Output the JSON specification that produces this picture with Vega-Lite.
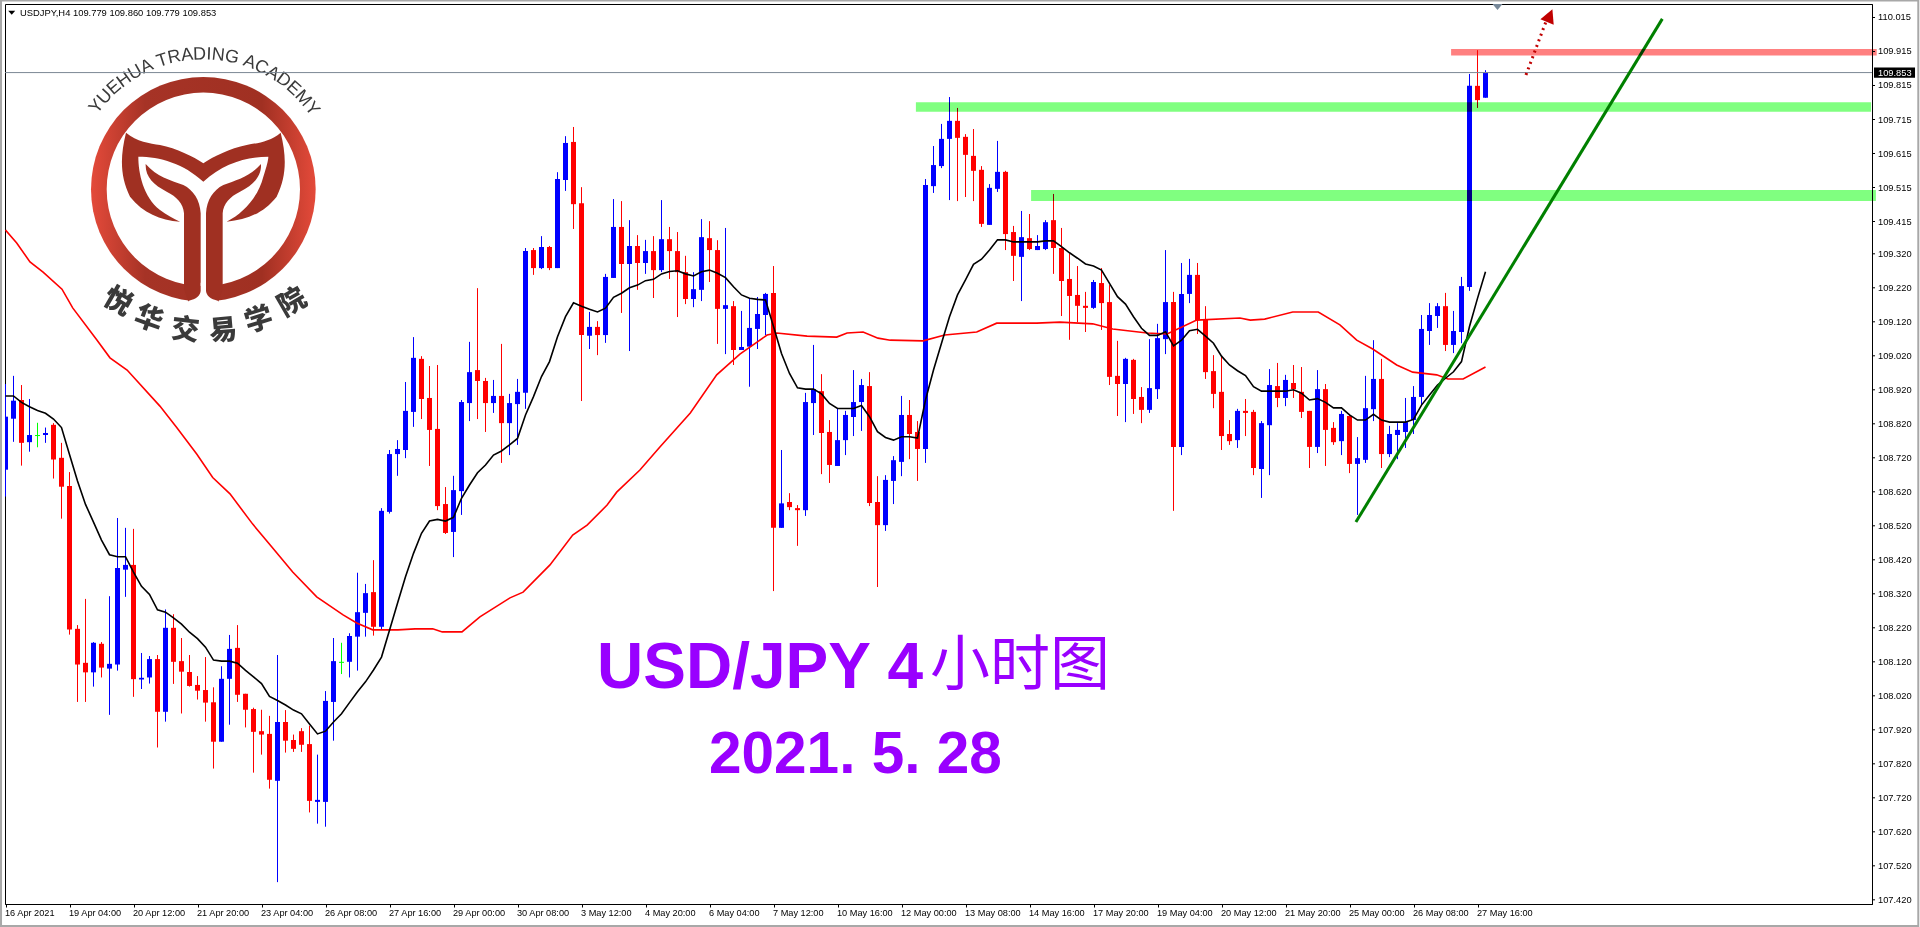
{"$schema":"https://vega.github.io/schema/vega-lite/v6.json","autosize":{"type":"none"},"padding":{"left":5,"top":4,"right":48,"bottom":23},"width":1867,"height":900,"background":"#ffffff","view":{"stroke":"#000000","strokeWidth":1,"fill":"#ffffff"},"config":{"axis":{"labelOverlap":false}},
"datasets":{"yTicks":[{"p":110.015},{"p":109.915},{"p":109.815},{"p":109.715},{"p":109.615},{"p":109.515},{"p":109.415},{"p":109.32},{"p":109.22},{"p":109.12},{"p":109.02},{"p":108.92},{"p":108.82},{"p":108.72},{"p":108.62},{"p":108.52},{"p":108.42},{"p":108.32},{"p":108.22},{"p":108.12},{"p":108.02},{"p":107.92},{"p":107.82},{"p":107.72},{"p":107.62},{"p":107.52},{"p":107.42}],
"candles":[
{"i":0,"o":108.685,"h":108.937,"l":108.606,"c":108.841,"d":"up"},{"i":1,"o":108.835,"h":108.961,"l":108.767,"c":108.888,"d":"up"},{"i":2,"o":108.890,"h":108.934,"l":108.697,"c":108.764,"d":"down"},{"i":3,"o":108.766,"h":108.893,"l":108.738,"c":108.787,"d":"up"},{"i":4,"o":108.784,"h":108.823,"l":108.751,"c":108.787,"d":"flat"},{"i":5,"o":108.787,"h":108.809,"l":108.764,"c":108.793,"d":"up"},{"i":6,"o":108.817,"h":108.822,"l":108.659,"c":108.715,"d":"down"},{"i":7,"o":108.720,"h":108.764,"l":108.541,"c":108.635,"d":"down"},{"i":8,"o":108.637,"h":108.678,"l":108.200,"c":108.215,"d":"down"},{"i":9,"o":108.217,"h":108.228,"l":108.002,"c":108.112,"d":"down"},
{"i":10,"o":108.117,"h":108.305,"l":108.002,"c":108.089,"d":"down"},{"i":11,"o":108.089,"h":108.178,"l":108.047,"c":108.176,"d":"up"},{"i":12,"o":108.173,"h":108.178,"l":108.074,"c":108.103,"d":"down"},{"i":13,"o":108.100,"h":108.313,"l":107.964,"c":108.114,"d":"up"},{"i":14,"o":108.112,"h":108.543,"l":108.094,"c":108.396,"d":"up"},{"i":15,"o":108.391,"h":108.514,"l":108.311,"c":108.405,"d":"up"},{"i":16,"o":108.405,"h":108.511,"l":108.017,"c":108.069,"d":"down"},{"i":17,"o":108.068,"h":108.146,"l":108.040,"c":108.073,"d":"up"},{"i":18,"o":108.074,"h":108.137,"l":108.056,"c":108.128,"d":"up"},{"i":19,"o":108.128,"h":108.140,"l":107.868,"c":107.973,"d":"down"},
{"i":20,"o":107.973,"h":108.274,"l":107.944,"c":108.220,"d":"up"},{"i":21,"o":108.220,"h":108.260,"l":108.055,"c":108.120,"d":"down"},{"i":22,"o":108.122,"h":108.190,"l":107.968,"c":108.091,"d":"down"},{"i":23,"o":108.090,"h":108.140,"l":108.047,"c":108.049,"d":"down"},{"i":24,"o":108.052,"h":108.078,"l":108.009,"c":108.035,"d":"down"},{"i":25,"o":108.037,"h":108.134,"l":107.944,"c":108.000,"d":"down"},{"i":26,"o":108.001,"h":108.045,"l":107.806,"c":107.885,"d":"down"},{"i":27,"o":107.885,"h":108.107,"l":107.885,"c":108.070,"d":"up"},{"i":28,"o":108.070,"h":108.199,"l":107.935,"c":108.158,"d":"up"},{"i":29,"o":108.161,"h":108.228,"l":108.002,"c":108.023,"d":"down"},
{"i":30,"o":108.026,"h":108.026,"l":107.927,"c":107.979,"d":"down"},{"i":31,"o":107.981,"h":107.985,"l":107.794,"c":107.914,"d":"down"},{"i":32,"o":107.916,"h":107.979,"l":107.847,"c":107.906,"d":"down"},{"i":33,"o":107.908,"h":107.961,"l":107.747,"c":107.773,"d":"down"},{"i":34,"o":107.770,"h":108.140,"l":107.472,"c":107.943,"d":"up"},{"i":35,"o":107.943,"h":107.978,"l":107.853,"c":107.888,"d":"down"},{"i":36,"o":107.890,"h":107.906,"l":107.855,"c":107.864,"d":"down"},{"i":37,"o":107.916,"h":107.925,"l":107.855,"c":107.876,"d":"down"},{"i":38,"o":107.878,"h":107.932,"l":107.677,"c":107.711,"d":"down"},{"i":39,"o":107.708,"h":107.847,"l":107.644,"c":107.714,"d":"up"},
{"i":40,"o":107.708,"h":108.034,"l":107.635,"c":108.005,"d":"up"},{"i":41,"o":108.002,"h":108.190,"l":107.888,"c":108.122,"d":"up"},{"i":42,"o":108.117,"h":108.176,"l":108.084,"c":108.120,"d":"flat"},{"i":43,"o":108.120,"h":108.204,"l":108.074,"c":108.196,"d":"up"},{"i":44,"o":108.194,"h":108.382,"l":108.094,"c":108.266,"d":"up"},{"i":45,"o":108.264,"h":108.349,"l":108.194,"c":108.322,"d":"up"},{"i":46,"o":108.325,"h":108.419,"l":108.197,"c":108.223,"d":"down"},{"i":47,"o":108.223,"h":108.572,"l":108.214,"c":108.564,"d":"up"},{"i":48,"o":108.561,"h":108.743,"l":108.556,"c":108.731,"d":"up"},{"i":49,"o":108.731,"h":108.772,"l":108.667,"c":108.746,"d":"up"},
{"i":50,"o":108.743,"h":108.943,"l":108.719,"c":108.858,"d":"up"},{"i":51,"o":108.855,"h":109.075,"l":108.811,"c":109.014,"d":"up"},{"i":52,"o":109.011,"h":109.019,"l":108.834,"c":108.893,"d":"down"},{"i":53,"o":108.896,"h":108.990,"l":108.696,"c":108.802,"d":"down"},{"i":54,"o":108.805,"h":108.993,"l":108.566,"c":108.578,"d":"down"},{"i":55,"o":108.584,"h":108.634,"l":108.496,"c":108.499,"d":"down"},{"i":56,"o":108.502,"h":108.667,"l":108.428,"c":108.625,"d":"up"},{"i":57,"o":108.622,"h":108.890,"l":108.552,"c":108.884,"d":"up"},{"i":58,"o":108.881,"h":109.061,"l":108.828,"c":108.972,"d":"up"},{"i":59,"o":108.978,"h":109.219,"l":108.834,"c":108.946,"d":"down"},
{"i":60,"o":108.946,"h":108.955,"l":108.796,"c":108.881,"d":"down"},{"i":61,"o":108.881,"h":108.949,"l":108.852,"c":108.902,"d":"up"},{"i":62,"o":108.902,"h":109.055,"l":108.705,"c":108.822,"d":"down"},{"i":63,"o":108.822,"h":108.908,"l":108.728,"c":108.881,"d":"up"},{"i":64,"o":108.878,"h":108.952,"l":108.758,"c":108.914,"d":"up"},{"i":65,"o":108.911,"h":109.337,"l":108.864,"c":109.328,"d":"up"},{"i":66,"o":109.331,"h":109.337,"l":109.258,"c":109.278,"d":"down"},{"i":67,"o":109.278,"h":109.372,"l":109.275,"c":109.340,"d":"up"},{"i":68,"o":109.340,"h":109.343,"l":109.272,"c":109.278,"d":"down"},{"i":69,"o":109.278,"h":109.560,"l":109.278,"c":109.540,"d":"up"},
{"i":70,"o":109.537,"h":109.666,"l":109.505,"c":109.646,"d":"up"},{"i":71,"o":109.649,"h":109.693,"l":109.393,"c":109.466,"d":"down"},{"i":72,"o":109.469,"h":109.516,"l":108.887,"c":109.081,"d":"down"},{"i":73,"o":109.079,"h":109.149,"l":109.040,"c":109.105,"d":"up"},{"i":74,"o":109.105,"h":109.122,"l":109.022,"c":109.081,"d":"down"},{"i":75,"o":109.081,"h":109.261,"l":109.058,"c":109.252,"d":"up"},{"i":76,"o":109.249,"h":109.481,"l":109.249,"c":109.399,"d":"up"},{"i":77,"o":109.399,"h":109.475,"l":109.146,"c":109.290,"d":"down"},{"i":78,"o":109.290,"h":109.419,"l":109.034,"c":109.343,"d":"up"},{"i":79,"o":109.343,"h":109.375,"l":109.214,"c":109.293,"d":"down"},
{"i":80,"o":109.293,"h":109.361,"l":109.261,"c":109.328,"d":"up"},{"i":81,"o":109.328,"h":109.372,"l":109.190,"c":109.272,"d":"down"},{"i":82,"o":109.272,"h":109.478,"l":109.266,"c":109.363,"d":"up"},{"i":83,"o":109.363,"h":109.399,"l":109.246,"c":109.328,"d":"down"},{"i":84,"o":109.328,"h":109.384,"l":109.134,"c":109.266,"d":"down"},{"i":85,"o":109.266,"h":109.314,"l":109.172,"c":109.187,"d":"down"},{"i":86,"o":109.187,"h":109.266,"l":109.163,"c":109.216,"d":"up"},{"i":87,"o":109.214,"h":109.422,"l":109.181,"c":109.369,"d":"up"},{"i":88,"o":109.366,"h":109.416,"l":109.237,"c":109.331,"d":"down"},{"i":89,"o":109.331,"h":109.360,"l":109.055,"c":109.158,"d":"down"},
{"i":90,"o":109.158,"h":109.396,"l":109.025,"c":109.169,"d":"up"},{"i":91,"o":109.166,"h":109.181,"l":108.993,"c":109.037,"d":"down"},{"i":92,"o":109.037,"h":109.152,"l":109.037,"c":109.046,"d":"up"},{"i":93,"o":109.047,"h":109.187,"l":108.929,"c":109.102,"d":"up"},{"i":94,"o":109.099,"h":109.193,"l":109.040,"c":109.143,"d":"up"},{"i":95,"o":109.140,"h":109.205,"l":109.081,"c":109.202,"d":"up"},{"i":96,"o":109.205,"h":109.284,"l":108.328,"c":108.514,"d":"down"},{"i":97,"o":108.514,"h":108.743,"l":108.514,"c":108.586,"d":"up"},{"i":98,"o":108.590,"h":108.616,"l":108.566,"c":108.575,"d":"down"},{"i":99,"o":108.572,"h":108.581,"l":108.461,"c":108.566,"d":"down"},
{"i":100,"o":108.566,"h":108.911,"l":108.549,"c":108.884,"d":"up"},{"i":101,"o":108.881,"h":109.052,"l":108.787,"c":108.922,"d":"up"},{"i":102,"o":108.916,"h":108.966,"l":108.672,"c":108.793,"d":"down"},{"i":103,"o":108.796,"h":108.831,"l":108.646,"c":108.699,"d":"down"},{"i":104,"o":108.696,"h":108.864,"l":108.696,"c":108.772,"d":"up"},{"i":105,"o":108.772,"h":108.858,"l":108.728,"c":108.846,"d":"up"},{"i":106,"o":108.840,"h":108.978,"l":108.784,"c":108.884,"d":"up"},{"i":107,"o":108.884,"h":108.952,"l":108.799,"c":108.934,"d":"up"},{"i":108,"o":108.931,"h":108.972,"l":108.578,"c":108.587,"d":"down"},{"i":109,"o":108.590,"h":108.666,"l":108.340,"c":108.522,"d":"down"},
{"i":110,"o":108.522,"h":108.669,"l":108.505,"c":108.655,"d":"up"},{"i":111,"o":108.652,"h":108.725,"l":108.584,"c":108.713,"d":"up"},{"i":112,"o":108.708,"h":108.902,"l":108.666,"c":108.846,"d":"up"},{"i":113,"o":108.846,"h":108.890,"l":108.716,"c":108.790,"d":"down"},{"i":114,"o":108.796,"h":108.828,"l":108.652,"c":108.746,"d":"down"},{"i":115,"o":108.746,"h":109.540,"l":108.705,"c":109.522,"d":"up"},{"i":116,"o":109.519,"h":109.637,"l":109.499,"c":109.581,"d":"up"},{"i":117,"o":109.578,"h":109.702,"l":109.572,"c":109.658,"d":"up"},{"i":118,"o":109.658,"h":109.781,"l":109.478,"c":109.711,"d":"up"},{"i":119,"o":109.711,"h":109.749,"l":109.475,"c":109.661,"d":"down"},
{"i":120,"o":109.664,"h":109.672,"l":109.487,"c":109.611,"d":"down"},{"i":121,"o":109.608,"h":109.687,"l":109.475,"c":109.564,"d":"down"},{"i":122,"o":109.567,"h":109.578,"l":109.399,"c":109.408,"d":"down"},{"i":123,"o":109.405,"h":109.525,"l":109.405,"c":109.514,"d":"up"},{"i":124,"o":109.511,"h":109.652,"l":109.502,"c":109.561,"d":"up"},{"i":125,"o":109.561,"h":109.564,"l":109.331,"c":109.378,"d":"down"},{"i":126,"o":109.384,"h":109.402,"l":109.240,"c":109.314,"d":"down"},{"i":127,"o":109.311,"h":109.446,"l":109.181,"c":109.369,"d":"up"},{"i":128,"o":109.366,"h":109.437,"l":109.331,"c":109.334,"d":"down"},{"i":129,"o":109.331,"h":109.375,"l":109.331,"c":109.343,"d":"up"},
{"i":130,"o":109.334,"h":109.419,"l":109.331,"c":109.413,"d":"up"},{"i":131,"o":109.419,"h":109.496,"l":109.261,"c":109.337,"d":"down"},{"i":132,"o":109.337,"h":109.396,"l":109.137,"c":109.240,"d":"down"},{"i":133,"o":109.246,"h":109.321,"l":109.067,"c":109.196,"d":"down"},{"i":134,"o":109.199,"h":109.284,"l":109.119,"c":109.167,"d":"down"},{"i":135,"o":109.167,"h":109.208,"l":109.090,"c":109.161,"d":"down"},{"i":136,"o":109.161,"h":109.243,"l":109.158,"c":109.237,"d":"up"},{"i":137,"o":109.234,"h":109.278,"l":109.096,"c":109.175,"d":"down"},{"i":138,"o":109.178,"h":109.228,"l":108.934,"c":108.958,"d":"down"},{"i":139,"o":108.961,"h":109.064,"l":108.843,"c":108.937,"d":"down"},
{"i":140,"o":108.937,"h":109.014,"l":108.825,"c":109.011,"d":"up"},{"i":141,"o":109.008,"h":109.011,"l":108.849,"c":108.893,"d":"down"},{"i":142,"o":108.899,"h":108.928,"l":108.822,"c":108.861,"d":"down"},{"i":143,"o":108.861,"h":109.069,"l":108.852,"c":108.925,"d":"up"},{"i":144,"o":108.922,"h":109.114,"l":108.893,"c":109.072,"d":"up"},{"i":145,"o":109.069,"h":109.331,"l":109.025,"c":109.178,"d":"up"},{"i":146,"o":109.178,"h":109.208,"l":108.564,"c":108.752,"d":"down"},{"i":147,"o":108.752,"h":109.293,"l":108.728,"c":109.202,"d":"up"},{"i":148,"o":109.202,"h":109.305,"l":109.175,"c":109.258,"d":"up"},{"i":149,"o":109.258,"h":109.293,"l":109.084,"c":109.125,"d":"down"},
{"i":150,"o":109.128,"h":109.166,"l":108.952,"c":108.972,"d":"down"},{"i":151,"o":108.975,"h":109.022,"l":108.866,"c":108.908,"d":"down"},{"i":152,"o":108.914,"h":109.019,"l":108.743,"c":108.784,"d":"down"},{"i":153,"o":108.790,"h":108.831,"l":108.758,"c":108.769,"d":"down"},{"i":154,"o":108.772,"h":108.864,"l":108.749,"c":108.858,"d":"up"},{"i":155,"o":108.858,"h":108.893,"l":108.784,"c":108.852,"d":"down"},{"i":156,"o":108.855,"h":108.861,"l":108.669,"c":108.690,"d":"down"},{"i":157,"o":108.687,"h":108.828,"l":108.602,"c":108.822,"d":"up"},{"i":158,"o":108.816,"h":108.981,"l":108.669,"c":108.934,"d":"up"},{"i":159,"o":108.931,"h":108.999,"l":108.869,"c":108.896,"d":"down"},
{"i":160,"o":108.896,"h":108.964,"l":108.872,"c":108.949,"d":"up"},{"i":161,"o":108.940,"h":108.993,"l":108.896,"c":108.922,"d":"down"},{"i":162,"o":108.914,"h":108.987,"l":108.837,"c":108.855,"d":"down"},{"i":163,"o":108.858,"h":108.858,"l":108.690,"c":108.752,"d":"down"},{"i":164,"o":108.752,"h":108.978,"l":108.734,"c":108.922,"d":"up"},{"i":165,"o":108.922,"h":108.937,"l":108.696,"c":108.802,"d":"down"},{"i":166,"o":108.808,"h":108.825,"l":108.758,"c":108.766,"d":"down"},{"i":167,"o":108.769,"h":108.858,"l":108.728,"c":108.849,"d":"up"},{"i":168,"o":108.843,"h":108.849,"l":108.675,"c":108.702,"d":"down"},{"i":169,"o":108.702,"h":108.781,"l":108.552,"c":108.719,"d":"up"},
{"i":170,"o":108.714,"h":108.961,"l":108.705,"c":108.866,"d":"up"},{"i":171,"o":108.863,"h":109.066,"l":108.828,"c":108.952,"d":"up"},{"i":172,"o":108.952,"h":109.011,"l":108.690,"c":108.731,"d":"down"},{"i":173,"o":108.731,"h":108.814,"l":108.722,"c":108.790,"d":"up"},{"i":174,"o":108.787,"h":108.822,"l":108.716,"c":108.802,"d":"up"},{"i":175,"o":108.796,"h":108.896,"l":108.749,"c":108.825,"d":"up"},{"i":176,"o":108.831,"h":108.931,"l":108.790,"c":108.899,"d":"up"},{"i":177,"o":108.899,"h":109.140,"l":108.875,"c":109.099,"d":"up"},{"i":178,"o":109.093,"h":109.175,"l":109.052,"c":109.140,"d":"up"},{"i":179,"o":109.137,"h":109.175,"l":109.102,"c":109.166,"d":"up"},
{"i":180,"o":109.166,"h":109.205,"l":109.034,"c":109.052,"d":"down"},{"i":181,"o":109.052,"h":109.152,"l":109.028,"c":109.093,"d":"up"},{"i":182,"o":109.090,"h":109.252,"l":109.057,"c":109.225,"d":"up"},{"i":183,"o":109.222,"h":109.849,"l":109.211,"c":109.814,"d":"up"},{"i":184,"o":109.814,"h":109.919,"l":109.749,"c":109.772,"d":"down"},{"i":185,"o":109.779,"h":109.860,"l":109.779,"c":109.853,"d":"up"}],
"fastMA":[{"i":0,"p":108.902},{"i":1,"p":108.902},{"i":2,"p":108.883},{"i":3,"p":108.870},{"i":4,"p":108.859},{"i":5,"p":108.851},{"i":6,"p":108.834},{"i":7,"p":108.809},{"i":8,"p":108.730},{"i":9,"p":108.652},{"i":10,"p":108.583},{"i":11,"p":108.531},{"i":12,"p":108.478},{"i":13,"p":108.435},{"i":14,"p":108.429},{"i":15,"p":108.429},{"i":16,"p":108.384},{"i":17,"p":108.342},{"i":18,"p":108.318},{"i":19,"p":108.273},{"i":20,"p":108.266},{"i":21,"p":108.249},{"i":22,"p":108.231},{"i":23,"p":108.207},{"i":24,"p":108.188},{"i":25,"p":108.163},{"i":26,"p":108.125},{"i":27,"p":108.122},{"i":28,"p":108.122},{"i":29,"p":108.116},{"i":30,"p":108.095},{"i":31,"p":108.076},{"i":32,"p":108.056},{"i":33,"p":108.018},{"i":34,"p":108.006},{"i":35,"p":107.993},{"i":36,"p":107.978},{"i":37,"p":107.967},{"i":38,"p":107.937},{"i":39,"p":107.908},{"i":40,"p":107.916},{"i":41,"p":107.943},{"i":42,"p":107.967},{"i":43,"p":108.000},{"i":44,"p":108.032},{"i":45,"p":108.061},{"i":46,"p":108.096},{"i":47,"p":108.134},{"i":48,"p":108.213},{"i":49,"p":108.292},{"i":50,"p":108.370},{"i":51,"p":108.439},{"i":52,"p":108.498},{"i":53,"p":108.534},{"i":54,"p":108.539},{"i":55,"p":108.534},{"i":56,"p":108.545},{"i":57,"p":108.601},{"i":58,"p":108.640},{"i":59,"p":108.676},{"i":60,"p":108.699},{"i":61,"p":108.728},{"i":62,"p":108.740},{"i":63,"p":108.758},{"i":64,"p":108.777},{"i":65,"p":108.846},{"i":66,"p":108.900},{"i":67,"p":108.959},{"i":68,"p":109.003},{"i":69,"p":109.076},{"i":70,"p":109.135},{"i":71,"p":109.176},{"i":72,"p":109.166},{"i":73,"p":109.157},{"i":74,"p":109.149},{"i":75,"p":109.160},{"i":76,"p":109.192},{"i":77,"p":109.204},{"i":78,"p":109.220},{"i":79,"p":109.228},{"i":80,"p":109.241},{"i":81,"p":109.245},{"i":82,"p":109.261},{"i":83,"p":109.268},{"i":84,"p":109.270},{"i":85,"p":109.261},{"i":86,"p":109.255},{"i":87,"p":109.267},{"i":88,"p":109.272},{"i":89,"p":109.263},{"i":90,"p":109.250},{"i":91,"p":109.223},{"i":92,"p":109.199},{"i":93,"p":109.189},{"i":94,"p":109.186},{"i":95,"p":109.184},{"i":96,"p":109.106},{"i":97,"p":109.027},{"i":98,"p":108.968},{"i":99,"p":108.926},{"i":100,"p":108.922},{"i":101,"p":108.922},{"i":102,"p":108.908},{"i":103,"p":108.880},{"i":104,"p":108.865},{"i":105,"p":108.865},{"i":106,"p":108.865},{"i":107,"p":108.874},{"i":108,"p":108.841},{"i":109,"p":108.797},{"i":110,"p":108.780},{"i":111,"p":108.772},{"i":112,"p":108.782},{"i":113,"p":108.782},{"i":114,"p":108.778},{"i":115,"p":108.890},{"i":116,"p":108.978},{"i":117,"p":109.057},{"i":118,"p":109.135},{"i":119,"p":109.199},{"i":120,"p":109.243},{"i":121,"p":109.289},{"i":122,"p":109.304},{"i":123,"p":109.331},{"i":124,"p":109.361},{"i":125,"p":109.361},{"i":126,"p":109.355},{"i":127,"p":109.355},{"i":128,"p":109.355},{"i":129,"p":109.355},{"i":130,"p":109.358},{"i":131,"p":109.358},{"i":132,"p":109.341},{"i":133,"p":109.323},{"i":134,"p":109.307},{"i":135,"p":109.290},{"i":136,"p":109.284},{"i":137,"p":109.272},{"i":138,"p":109.233},{"i":139,"p":109.194},{"i":140,"p":109.172},{"i":141,"p":109.135},{"i":142,"p":109.101},{"i":143,"p":109.080},{"i":144,"p":109.080},{"i":145,"p":109.091},{"i":146,"p":109.049},{"i":147,"p":109.066},{"i":148,"p":109.094},{"i":149,"p":109.098},{"i":150,"p":109.078},{"i":151,"p":109.057},{"i":152,"p":109.019},{"i":153,"p":108.993},{"i":154,"p":108.976},{"i":155,"p":108.962},{"i":156,"p":108.929},{"i":157,"p":108.916},{"i":158,"p":108.916},{"i":159,"p":108.916},{"i":160,"p":108.916},{"i":161,"p":108.920},{"i":162,"p":108.910},{"i":163,"p":108.890},{"i":164,"p":108.894},{"i":165,"p":108.883},{"i":166,"p":108.867},{"i":167,"p":108.867},{"i":168,"p":108.846},{"i":169,"p":108.831},{"i":170,"p":108.831},{"i":171,"p":108.848},{"i":172,"p":108.831},{"i":173,"p":108.825},{"i":174,"p":108.825},{"i":175,"p":108.825},{"i":176,"p":108.833},{"i":177,"p":108.875},{"i":178,"p":108.905},{"i":179,"p":108.934},{"i":180,"p":108.954},{"i":181,"p":108.973},{"i":182,"p":109.003},{"i":183,"p":109.106},{"i":184,"p":109.189},{"i":185,"p":109.267}],
"slowMA":[{"i":0,"p":109.390},{"i":1.4,"p":109.352},{"i":3.06,"p":109.296},{"i":4.7,"p":109.266},{"i":7.06,"p":109.216},{"i":8.4,"p":109.161},{"i":11.4,"p":109.067},{"i":13.06,"p":109.014},{"i":15.2,"p":108.978},{"i":19.3,"p":108.872},{"i":21.4,"p":108.809},{"i":23.9,"p":108.731},{"i":25.9,"p":108.662},{"i":28.06,"p":108.614},{"i":30.9,"p":108.525},{"i":33.06,"p":108.464},{"i":35.9,"p":108.384},{"i":38.9,"p":108.311},{"i":42.2,"p":108.258},{"i":43.9,"p":108.234},{"i":45.9,"p":108.214},{"i":49.06,"p":108.214},{"i":51.2,"p":108.217},{"i":53.4,"p":108.217},{"i":54.6,"p":108.208},{"i":57.06,"p":108.208},{"i":59.3,"p":108.252},{"i":63.06,"p":108.308},{"i":64.7,"p":108.325},{"i":68.06,"p":108.405},{"i":70.9,"p":108.493},{"i":72.7,"p":108.522},{"i":75.2,"p":108.581},{"i":76.4,"p":108.619},{"i":79.3,"p":108.684},{"i":81.8,"p":108.752},{"i":85.6,"p":108.852},{"i":88.9,"p":108.964},{"i":91.8,"p":109.025},{"i":95.2,"p":109.081},{"i":96.4,"p":109.087},{"i":100.2,"p":109.078},{"i":103.9,"p":109.075},{"i":105.2,"p":109.087},{"i":107.2,"p":109.090},{"i":109.06,"p":109.072},{"i":110.6,"p":109.066},{"i":114.7,"p":109.064},{"i":117.4,"p":109.081},{"i":121.4,"p":109.090},{"i":123.9,"p":109.116},{"i":128.9,"p":109.116},{"i":131.8,"p":109.119},{"i":135.9,"p":109.114},{"i":138.4,"p":109.099},{"i":142.7,"p":109.087},{"i":145.2,"p":109.084},{"i":148.9,"p":109.125},{"i":154.3,"p":109.131},{"i":155.6,"p":109.125},{"i":157.4,"p":109.128},{"i":160.9,"p":109.149},{"i":164.1,"p":109.149},{"i":166.8,"p":109.111},{"i":168.9,"p":109.066},{"i":170.9,"p":109.040},{"i":173.9,"p":108.993},{"i":175.9,"p":108.972},{"i":178.9,"p":108.964},{"i":180.3,"p":108.952},{"i":182.2,"p":108.952},{"i":185,"p":108.987}],
"logoAnchor":[{"i":24.73,"p":109.5097}],
"logoLetters":[{"t":"Y","i":11.4,"p":109.753,"a":-52},{"t":"U","i":12.44,"p":109.781,"a":-47},{"t":"E","i":13.59,"p":109.808,"a":-41},{"t":"H","i":14.84,"p":109.831,"a":-36},{"t":"U","i":16.22,"p":109.853,"a":-30},{"t":"A","i":17.65,"p":109.870,"a":-25},{"t":"T","i":19.61,"p":109.888,"a":-18},{"t":"R","i":21.1,"p":109.898,"a":-12},{"t":"A","i":22.69,"p":109.904,"a":-7},{"t":"D","i":24.27,"p":109.906,"a":-2},{"t":"I","i":25.44,"p":109.906,"a":2},{"t":"N","i":26.59,"p":109.904,"a":6},{"t":"G","i":28.29,"p":109.898,"a":12},{"t":"A","i":30.5,"p":109.883,"a":20},{"t":"C","i":31.98,"p":109.868,"a":25},{"t":"A","i":33.39,"p":109.850,"a":31},{"t":"D","i":34.73,"p":109.830,"a":36},{"t":"E","i":35.96,"p":109.806,"a":42},{"t":"M","i":37.2,"p":109.777,"a":48},{"t":"Y","i":38.3,"p":109.746,"a":53}],
"logoHan":[{"t":"悦","i":13.98,"p":109.177,"a":30},{"t":"华","i":17.85,"p":109.125,"a":20},{"t":"交","i":22.44,"p":109.093,"a":7},{"t":"易","i":27.23,"p":109.091,"a":-5},{"t":"学","i":31.69,"p":109.123,"a":-17},{"t":"院","i":35.9,"p":109.174,"a":-30}]},
"layer":[
{"data":{"values":[{"x1":-0.56,"x2":239.1,"top":110.065,"bot":107.343}]},"mark":{"type":"rect","fillOpacity":0,"stroke":"#a8a8a8","strokeWidth":2},"encoding":{"x":{"field":"x1","type":"quantitative","scale":{"domain":[-0.0625,233.3125],"nice":false,"zero":false},"axis":{"title":null,"grid":false,"orient":"bottom","values":[0,8,16,24,32,40,48,56,64,72,80,88,96,104,112,120,128,136,144,152,160,168,176,184],"labelExpr":"['16 Apr 2021','19 Apr 04:00','20 Apr 12:00','21 Apr 20:00','23 Apr 04:00','26 Apr 08:00','27 Apr 16:00','29 Apr 00:00','30 Apr 08:00','3 May 12:00','4 May 20:00','6 May 04:00','7 May 12:00','10 May 16:00','12 May 00:00','13 May 08:00','14 May 16:00','17 May 20:00','19 May 04:00','20 May 12:00','21 May 20:00','25 May 00:00','26 May 08:00','27 May 16:00'][datum.value/8]","labelAlign":"left","labelBaseline":"top","labelPadding":1,"labelOverlap":false,"labelFlush":false,"labelBound":false,"labelFont":"Liberation Sans","labelFontSize":9.2,"labelColor":"#000000","tickColor":"#000000","tickSize":3,"domainColor":"#000000","labelOffset":-1}},"x2":{"field":"x2"},"y":{"field":"top","type":"quantitative","scale":{"domain":[107.4077,110.0547],"nice":false,"zero":false},"axis":{"title":null,"grid":false,"orient":"right","labels":false,"ticks":false,"values":[110.015],"domainColor":"#000000"}},"y2":{"field":"bot"}}},
{"data":{"name":"yTicks"},"mark":{"type":"rule","stroke":"#000000","strokeWidth":1},"encoding":{"x":{"datum":233.3125},"x2":{"datum":233.69},"y":{"field":"p","type":"quantitative"}}},
{"data":{"name":"yTicks"},"mark":{"type":"text","font":"Liberation Sans","fontSize":9.3,"fill":"#000000","align":"left","baseline":"middle"},"encoding":{"x":{"datum":234.06},"y":{"field":"p","type":"quantitative"},"text":{"field":"p","type":"quantitative","format":".3f"}}},
{"data":{"name":"logoAnchor"},"mark":{"type":"point","filled":true,"opacity":1,"size":50476,"shape":"circle","fill":{"gradient":"linear","x1":0,"y1":0.5,"x2":1,"y2":0.5,"stops":[{"offset":0,"color":"#e44a3a"},{"offset":0.24,"color":"#a63326"},{"offset":0.76,"color":"#a03022"},{"offset":1,"color":"#e44a3a"}]}},"encoding":{"x":{"field":"i","type":"quantitative"},"y":{"field":"p","type":"quantitative"}}},
{"data":{"name":"logoAnchor"},"mark":{"type":"point","filled":true,"opacity":1,"size":37372,"shape":"circle","fill":"#ffffff"},"encoding":{"x":{"field":"i","type":"quantitative"},"y":{"field":"p","type":"quantitative"}}},
{"data":{"name":"logoAnchor"},"mark":{"type":"point","filled":true,"opacity":1,"size":0.4444,"fill":"#a03022","shape":"M-232,-170 C-200,-143 -160,-138 -130,-133 C-80,-123 -30,-98 0,-78 C30,-98 80,-123 130,-133 C160,-138 200,-143 232,-170 C250,-98 250,-38 220,22 C180,72 130,92 70,97 C120,72 165,22 180,-38 C190,-68 195,-88 195,-98 C130,-98 60,-78 0,-23 C-60,-78 -130,-98 -195,-98 C-195,-48 -180,22 -130,62 C-110,77 -90,87 -70,97 C-130,92 -180,72 -220,22 C-250,-38 -250,-98 -232,-170 Z"},"encoding":{"x":{"field":"i","type":"quantitative"},"y":{"field":"p","type":"quantitative"}}},
{"data":{"name":"logoAnchor"},"mark":{"type":"point","filled":true,"opacity":1,"size":0.4444,"fill":"#a03022","shape":"M-173,-76 C-140,-38 -100,-28 -60,-13 C-30,2 -10,32 -8,72 L-8,305 C-10,320 -20,328 -45,337 L-58,300 L-58,72 C-60,42 -80,22 -110,7 C-150,-13 -175,-38 -173,-76 Z M173,-76 C140,-38 100,-28 60,-13 C30,2 10,32 8,72 L8,305 C10,320 20,328 45,337 L58,300 L58,72 C60,42 80,22 110,7 C150,-13 175,-38 173,-76 Z"},"encoding":{"x":{"field":"i","type":"quantitative"},"y":{"field":"p","type":"quantitative"}}},
{"data":{"name":"logoAnchor"},"mark":{"type":"point","filled":true,"opacity":1,"size":0.4444,"fill":"#ffffff","shape":"M-8,280 L8,280 L8,305 C10,320 20,328 45,335 L45,345 L-45,345 L-45,335 C-20,328 -10,320 -8,305 Z"},"encoding":{"x":{"field":"i","type":"quantitative"},"y":{"field":"p","type":"quantitative"}}},
{"data":{"name":"logoLetters"},"mark":{"type":"text","font":"Liberation Sans","fontSize":18,"fill":"#3a3a3a","align":"center","baseline":"middle"},"encoding":{"x":{"field":"i","type":"quantitative"},"y":{"field":"p","type":"quantitative"},"text":{"field":"t"},"angle":{"field":"a","type":"quantitative","scale":null}}},
{"data":{"name":"logoHan"},"mark":{"type":"text","font":"Noto Sans CJK SC","fontWeight":900,"fontSize":28,"fill":"#3a3a3a","align":"center","baseline":"middle"},"encoding":{"x":{"field":"i","type":"quantitative"},"y":{"field":"p","type":"quantitative"},"text":{"field":"t"},"angle":{"field":"a","type":"quantitative","scale":null}}},
{"data":{"name":"candles"},"mark":{"type":"rule","strokeWidth":1,"clip":true},"encoding":{"x":{"field":"i","type":"quantitative"},"y":{"field":"h","type":"quantitative"},"y2":{"field":"l"},"color":{"field":"d","type":"nominal","legend":null,"scale":{"domain":["up","down","flat"],"range":["#0000ff","#ff0000","#00ff00"]}}}},
{"data":{"name":"candles"},"mark":{"type":"rule","strokeWidth":5,"clip":true},"encoding":{"x":{"field":"i","type":"quantitative"},"y":{"field":"o","type":"quantitative"},"y2":{"field":"c"},"color":{"field":"d","type":"nominal","legend":null,"scale":{"domain":["up","down","flat"],"range":["#0000ff","#ff0000","#00ff00"]}}}},
{"data":{"values":[{"p":109.853}]},"mark":{"type":"rule","stroke":"#7b8794","strokeWidth":1},"encoding":{"y":{"field":"p","type":"quantitative"}}},
{"data":{"name":"slowMA"},"mark":{"type":"line","stroke":"#ff0000","strokeWidth":1.6,"clip":true},"encoding":{"x":{"field":"i","type":"quantitative"},"y":{"field":"p","type":"quantitative"},"order":{"field":"i"}}},
{"data":{"name":"fastMA"},"mark":{"type":"line","stroke":"#000000","strokeWidth":1.6,"clip":true},"encoding":{"x":{"field":"i","type":"quantitative"},"y":{"field":"p","type":"quantitative"},"order":{"field":"i"}}},
{"data":{"values":[{"i":168.8,"p":108.531},{"i":207.1,"p":110.011}]},"mark":{"type":"line","stroke":"#008000","strokeWidth":3},"encoding":{"x":{"field":"i","type":"quantitative"},"y":{"field":"p","type":"quantitative"}}},
{"data":{"values":[{"x1":180.7,"x2":233.9,"top":109.922,"bot":109.903}]},"mark":{"type":"rect","fill":"#ff8080","blend":"multiply"},"encoding":{"x":{"field":"x1","type":"quantitative"},"x2":{"field":"x2"},"y":{"field":"top","type":"quantitative"},"y2":{"field":"bot"}}},
{"data":{"values":[{"x1":113.8,"x2":233.2,"top":109.766,"bot":109.738},{"x1":128.2,"x2":233.8,"top":109.508,"bot":109.475}]},"mark":{"type":"rect","fill":"#80ff80","blend":"multiply"},"encoding":{"x":{"field":"x1","type":"quantitative"},"x2":{"field":"x2"},"y":{"field":"top","type":"quantitative"},"y2":{"field":"bot"}}},
{"data":{"values":[{"i":190.06,"p":109.846},{"i":192.56,"p":110.003}]},"mark":{"type":"line","stroke":"#c00000","strokeWidth":3,"strokeDash":[2,4]},"encoding":{"x":{"field":"i","type":"quantitative"},"y":{"field":"p","type":"quantitative"}}},
{"data":{"values":[{"i":192.9,"p":110.014}]},"mark":{"type":"point","filled":true,"opacity":1,"size":4,"fill":"#c00000","shape":"M3.7,-8.7 L-8.3,1.3 L5,7 Z"},"encoding":{"x":{"field":"i","type":"quantitative"},"y":{"field":"p","type":"quantitative"}}},
{"data":{"values":[{"i":186.5,"p":110.046}]},"mark":{"type":"point","filled":true,"opacity":1,"size":4,"fill":"#778899","shape":"M-5,-3 L5,-3 L0,3 Z"},"encoding":{"x":{"field":"i","type":"quantitative"},"y":{"field":"p","type":"quantitative"}}},
{"data":{"values":[{"i":0.775,"p":110.029}]},"mark":{"type":"point","filled":true,"opacity":1,"size":4,"fill":"#000000","shape":"M-3.5,-2 L3.5,-2 L0,2 Z"},"encoding":{"x":{"field":"i","type":"quantitative"},"y":{"field":"p","type":"quantitative"}}},
{"data":{"values":[{"t":"USDJPY,H4  109.779 109.860 109.779 109.853","i":1.81,"p":110.0194}]},"mark":{"type":"text","font":"Liberation Sans","fontSize":9.4,"fill":"#000000","align":"left","baseline":"alphabetic"},"encoding":{"x":{"field":"i","type":"quantitative"},"y":{"field":"p","type":"quantitative"},"text":{"field":"t"}}},
{"data":{"values":[{"x1":233.56,"x2":238.69,"top":109.868,"bot":109.838}]},"mark":{"type":"rect","fill":"#000000"},"encoding":{"x":{"field":"x1","type":"quantitative"},"x2":{"field":"x2"},"y":{"field":"top","type":"quantitative"},"y2":{"field":"bot"}}},
{"data":{"values":[{"t":"109.853","i":234.06,"p":109.853}]},"mark":{"type":"text","font":"Liberation Sans","fontSize":9.3,"fill":"#ffffff","align":"left","baseline":"middle"},"encoding":{"x":{"field":"i","type":"quantitative"},"y":{"field":"p","type":"quantitative"},"text":{"field":"t"}}},
{"data":{"values":[{"t":"USD/JPY 4","i":73.94,"p":108.043}]},"mark":{"type":"text","font":"Liberation Sans","fontWeight":"bold","fontSize":64,"fill":"#9900ff","align":"left","baseline":"alphabetic"},"encoding":{"x":{"field":"i","type":"quantitative"},"y":{"field":"p","type":"quantitative"},"text":{"field":"t"}}},
{"data":{"values":[{"t":"2021. 5. 28","i":87.94,"p":107.793}]},"mark":{"type":"text","font":"Liberation Sans","fontWeight":"bold","fontSize":58.5,"fill":"#9900ff","align":"left","baseline":"alphabetic"},"encoding":{"x":{"field":"i","type":"quantitative"},"y":{"field":"p","type":"quantitative"},"text":{"field":"t"}}},
{"data":{"values":[{"t":"小时图","i":115.56,"p":108.052}]},"mark":{"type":"text","font":"Noto Sans CJK SC","fontWeight":400,"fontSize":60,"fill":"#9900ff","align":"left","baseline":"alphabetic"},"encoding":{"x":{"field":"i","type":"quantitative"},"y":{"field":"p","type":"quantitative"},"text":{"field":"t"}}}
]}
